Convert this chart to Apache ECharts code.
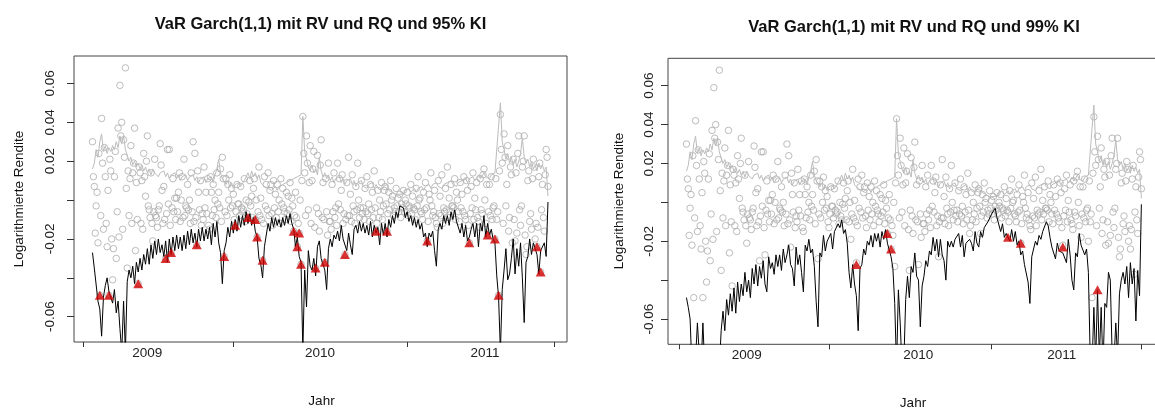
<!DOCTYPE html>
<html><head><meta charset="utf-8">
<script src="https://cdn.jsdelivr.net/npm/echarts@6/dist/echarts.min.js"></script>
<style>html,body{margin:0;padding:0;background:#fff}#c{width:1155px;height:410px}</style>
</head><body><div id="c"></div>
<script>
// daily log returns (grey circles), one value per trading day, shared by both panels
const returns = [
0.030,0.012,0.007,-0.017,-0.003,0.004,-0.022,0.024,-0.049,-0.008,0.042,0.019,-0.015,0.027,0.012,-0.012,-0.024,0.005,-0.049,0.021,
0.015,-0.020,-0.041,-0.025,0.012,0.025,-0.030,-0.006,0.037,-0.019,0.059,0.033,0.040,-0.015,0.031,0.022,0.068,0.006,-0.035,0.015,
-0.008,0.011,0.028,-0.012,0.014,0.019,0.037,-0.026,0.009,-0.010,-0.043,0.017,0.014,-0.012,0.010,-0.015,0.024,0.012,0.002,0.020,
0.033,-0.003,-0.005,-0.009,0.014,-0.012,-0.021,-0.006,0.021,-0.008,-0.009,-0.014,-0.005,-0.003,0.029,0.018,0.005,-0.012,0.007,-0.010,
-0.030,-0.007,0.026,-0.002,0.026,-0.013,-0.027,-0.004,0.011,-0.006,0.001,-0.010,0.001,-0.006,0.004,0.014,-0.011,0.000,0.012,-0.009,
0.021,-0.008,-0.003,-0.004,0.008,-0.005,0.000,-0.012,0.014,-0.006,0.030,-0.011,0.024,-0.009,-0.023,0.015,0.004,-0.005,0.010,-0.013,
-0.007,-0.010,0.017,-0.004,0.004,-0.007,0.011,-0.013,-0.015,0.012,0.004,-0.008,0.008,-0.005,0.000,-0.009,0.014,-0.002,0.004,-0.004,
0.016,-0.011,0.022,0.011,-0.029,-0.006,0.011,-0.008,0.008,0.000,0.013,-0.004,0.006,-0.003,0.003,-0.010,-0.013,-0.006,0.008,-0.002,
-0.002,-0.008,0.007,-0.004,-0.006,-0.005,0.011,-0.011,0.000,-0.007,-0.009,-0.001,0.010,-0.003,0.002,-0.009,0.006,0.011,-0.010,0.000,
-0.019,-0.006,0.017,-0.008,0.001,-0.010,-0.031,-0.012,0.012,-0.003,0.008,-0.005,0.014,-0.008,0.005,0.008,-0.007,-0.013,0.010,-0.004,
0.003,-0.009,0.008,-0.006,0.000,-0.012,0.011,-0.002,0.006,-0.004,-0.006,-0.010,0.004,-0.007,0.002,-0.005,0.009,-0.011,0.001,-0.003,
-0.016,-0.008,0.004,-0.009,-0.024,-0.012,-0.017,0.000,-0.033,0.010,0.043,0.024,0.014,-0.008,0.033,0.019,-0.005,0.009,0.028,-0.012,
0.010,0.016,0.025,-0.014,-0.035,-0.004,0.023,-0.007,-0.016,0.018,0.031,-0.009,0.009,-0.010,-0.032,0.011,-0.006,-0.018,0.019,-0.011,
-0.011,-0.015,0.008,-0.006,0.014,-0.009,-0.004,-0.013,0.019,-0.002,0.011,-0.005,0.005,0.013,-0.012,-0.007,-0.028,-0.010,0.009,-0.008,
0.022,-0.008,0.003,-0.011,0.013,-0.003,-0.006,-0.012,0.007,-0.005,0.019,0.000,-0.009,-0.004,0.010,-0.007,-0.004,-0.010,0.006,-0.006,
0.012,-0.007,-0.002,-0.011,0.008,-0.005,0.004,-0.009,0.015,-0.004,-0.016,-0.012,0.005,-0.009,0.000,-0.006,0.009,-0.010,-0.003,0.005,
0.007,-0.002,-0.016,-0.007,0.004,-0.005,0.010,0.000,0.002,-0.008,-0.004,-0.006,0.006,-0.003,0.001,-0.006,0.003,-0.009,-0.002,-0.004,
0.005,-0.006,0.000,-0.002,0.004,-0.008,-0.003,-0.004,0.008,-0.007,0.002,-0.004,-0.005,-0.010,0.006,-0.003,0.012,0.000,0.001,-0.006,
-0.007,-0.010,0.004,-0.005,0.009,-0.004,-0.021,-0.011,0.003,0.000,0.014,-0.003,-0.008,-0.006,0.005,-0.009,-0.012,-0.014,0.010,-0.007,
0.002,-0.008,0.013,-0.012,-0.004,-0.006,0.006,-0.005,0.017,-0.009,0.001,-0.006,0.008,-0.003,-0.003,-0.004,0.011,-0.010,0.004,0.000,
-0.006,-0.011,0.009,-0.004,0.003,-0.006,0.012,-0.008,-0.010,0.010,0.005,-0.013,-0.022,-0.007,0.007,-0.004,0.014,-0.010,0.001,-0.005,
0.009,-0.009,-0.011,-0.014,0.011,-0.005,-0.007,0.013,0.016,0.000,-0.012,0.008,-0.018,-0.006,0.008,-0.008,0.012,-0.010,-0.004,-0.003,
-0.020,0.011,-0.010,-0.006,-0.049,0.015,0.044,0.026,0.019,-0.012,0.034,0.022,-0.003,0.008,0.028,-0.016,-0.009,0.017,0.013,-0.022,
0.021,-0.010,-0.021,0.014,-0.017,0.024,0.033,-0.005,-0.013,-0.003,0.017,0.020,0.033,-0.018,-0.028,-0.024,0.010,0.015,-0.011,-0.007,
-0.015,0.011,0.021,0.017,-0.020,-0.012,-0.024,-0.014,0.012,0.019,-0.037,-0.005,0.008,-0.009,-0.016,0.013,0.026,0.022,0.007];
// realized volatility (grey line), one value every second trading day, shared
const rvLine = [
0.016,0.019,0.026,0.022,0.030,0.034,0.025,0.028,0.024,0.027,
0.025,0.028,0.026,0.030,0.027,0.033,0.029,0.033,0.026,0.023,
0.020,0.022,0.018,0.020,0.017,0.019,0.016,0.018,0.015,0.017,
0.014,0.016,0.013,0.016,0.014,0.015,0.012,0.014,0.013,0.015,
0.012,0.014,0.011,0.013,0.012,0.014,0.011,0.013,0.010,0.012,
0.011,0.013,0.010,0.012,0.011,0.013,0.010,0.012,0.009,0.011,
0.010,0.012,0.009,0.011,0.010,0.012,0.009,0.013,0.016,0.021,
0.014,0.011,0.010,0.008,0.010,0.007,0.009,0.006,0.008,0.007,
0.009,0.007,0.008,0.010,0.012,0.014,0.011,0.015,0.012,0.014,
0.011,0.013,0.009,0.010,0.007,0.008,0.006,0.007,0.005,0.006,
0.007,0.005,0.007,0.006,0.008,0.007,0.009,0.008,0.010,0.009,
0.011,0.010,0.012,0.011,0.013,0.043,0.025,0.021,0.017,0.015,
0.018,0.014,0.016,0.013,0.022,0.015,0.012,0.014,0.011,0.013,
0.010,0.012,0.009,0.011,0.010,0.012,0.009,0.011,0.008,0.010,
0.009,0.011,0.008,0.010,0.007,0.009,0.008,0.010,0.007,0.008,
0.006,0.008,0.007,0.009,0.006,0.008,0.006,0.007,0.005,0.007,
0.006,0.008,0.005,0.006,0.004,0.005,0.003,0.004,0.003,0.004,
0.003,0.005,0.004,0.006,0.004,0.005,0.006,0.004,0.006,0.005,
0.007,0.005,0.007,0.006,0.008,0.006,0.008,0.007,0.009,0.007,
0.008,0.006,0.008,0.007,0.009,0.008,0.010,0.008,0.009,0.007,
0.009,0.008,0.010,0.009,0.011,0.009,0.011,0.010,0.012,0.010,
0.011,0.013,0.011,0.012,0.014,0.012,0.013,0.011,0.013,0.012,
0.014,0.013,0.038,0.050,0.030,0.026,0.021,0.024,0.019,0.022,
0.018,0.021,0.017,0.020,0.024,0.032,0.022,0.019,0.021,0.017,
0.020,0.016,0.018,0.015,0.019,0.016,0.018,0.015,0.017,0.002];
// VaR 95% (black line, left panel), every second trading day
const var95 = [
-0.027,-0.035,-0.036,-0.052,-0.056,-0.070,-0.050,-0.044,-0.040,-0.047,
-0.048,-0.053,-0.046,-0.058,-0.052,-0.066,-0.078,-0.052,-0.078,-0.042,
-0.036,-0.040,-0.034,-0.043,-0.032,-0.037,-0.030,-0.036,-0.028,-0.033,
-0.025,-0.033,-0.023,-0.030,-0.021,-0.028,-0.020,-0.027,-0.023,-0.029,
-0.021,-0.032,-0.020,-0.028,-0.019,-0.026,-0.018,-0.025,-0.019,-0.026,
-0.018,-0.025,-0.016,-0.023,-0.015,-0.022,-0.017,-0.024,-0.015,-0.021,
-0.014,-0.021,-0.015,-0.020,-0.014,-0.023,-0.012,-0.019,-0.011,-0.022,
-0.027,-0.043,-0.026,-0.022,-0.014,-0.019,-0.011,-0.017,-0.010,-0.016,
-0.008,-0.014,-0.008,-0.013,-0.006,-0.012,-0.007,-0.013,-0.009,-0.016,
-0.019,-0.030,-0.033,-0.040,-0.024,-0.023,-0.012,-0.016,-0.009,-0.014,
-0.009,-0.013,-0.010,-0.014,-0.009,-0.013,-0.008,-0.012,-0.007,-0.012,
-0.015,-0.024,-0.019,-0.029,-0.032,-0.078,-0.036,-0.055,-0.026,-0.034,
-0.036,-0.030,-0.039,-0.024,-0.021,-0.030,-0.029,-0.036,-0.046,-0.025,
-0.020,-0.024,-0.018,-0.020,-0.016,-0.021,-0.013,-0.020,-0.020,-0.026,
-0.017,-0.023,-0.028,-0.015,-0.013,-0.017,-0.011,-0.016,-0.012,-0.017,
-0.013,-0.018,-0.011,-0.019,-0.013,-0.017,-0.014,-0.023,-0.012,-0.018,
-0.012,-0.019,-0.010,-0.014,-0.008,-0.012,-0.006,-0.009,-0.003,-0.002,
-0.004,-0.009,-0.006,-0.011,-0.008,-0.013,-0.009,-0.014,-0.010,-0.015,
-0.012,-0.019,-0.017,-0.024,-0.017,-0.019,-0.016,-0.026,-0.034,-0.015,
-0.012,-0.015,-0.008,-0.012,-0.008,-0.013,-0.006,-0.010,-0.005,-0.011,
-0.010,-0.017,-0.012,-0.019,-0.013,-0.021,-0.019,-0.015,-0.012,-0.019,
-0.012,-0.024,-0.012,-0.016,-0.008,-0.019,-0.012,-0.018,-0.015,-0.020,
-0.022,-0.039,-0.050,-0.078,-0.046,-0.036,-0.025,-0.041,-0.038,-0.030,
-0.020,-0.038,-0.025,-0.034,-0.022,-0.040,-0.063,-0.032,-0.029,-0.020,
-0.028,-0.022,-0.025,-0.028,-0.038,-0.026,-0.027,-0.022,-0.029,-0.001];
// VaR 99% (black line, right panel), every second trading day
const var99 = [
-0.049,-0.054,-0.060,-0.085,-0.090,-0.080,-0.062,-0.078,-0.085,-0.062,
-0.085,-0.095,-0.090,-0.095,-0.100,-0.095,-0.100,-0.090,-0.085,-0.066,
-0.056,-0.066,-0.050,-0.058,-0.047,-0.056,-0.044,-0.057,-0.041,-0.051,
-0.042,-0.048,-0.036,-0.046,-0.040,-0.049,-0.034,-0.042,-0.032,-0.043,
-0.033,-0.039,-0.030,-0.042,-0.046,-0.028,-0.034,-0.031,-0.037,-0.027,
-0.033,-0.027,-0.035,-0.024,-0.031,-0.027,-0.022,-0.032,-0.034,-0.043,
-0.023,-0.032,-0.027,-0.036,-0.046,-0.022,-0.025,-0.019,-0.026,-0.024,
-0.033,-0.051,-0.064,-0.026,-0.028,-0.017,-0.025,-0.020,-0.021,-0.016,
-0.024,-0.015,-0.016,-0.011,-0.013,-0.009,-0.016,-0.014,-0.021,-0.036,
-0.044,-0.032,-0.042,-0.048,-0.066,-0.034,-0.032,-0.024,-0.027,-0.020,
-0.022,-0.017,-0.023,-0.016,-0.020,-0.016,-0.023,-0.015,-0.019,-0.014,
-0.021,-0.021,-0.028,-0.034,-0.052,-0.085,-0.045,-0.062,-0.085,-0.082,
-0.050,-0.038,-0.049,-0.033,-0.036,-0.026,-0.038,-0.040,-0.064,-0.043,
-0.038,-0.030,-0.033,-0.025,-0.027,-0.018,-0.025,-0.019,-0.028,-0.019,
-0.027,-0.030,-0.040,-0.020,-0.023,-0.020,-0.023,-0.019,-0.020,-0.016,
-0.023,-0.017,-0.028,-0.021,-0.022,-0.019,-0.021,-0.025,-0.015,-0.021,
-0.023,-0.015,-0.018,-0.013,-0.014,-0.010,-0.011,-0.006,-0.006,-0.003,
-0.008,-0.009,-0.015,-0.011,-0.018,-0.016,-0.017,-0.020,-0.014,-0.020,
-0.015,-0.022,-0.020,-0.027,-0.025,-0.032,-0.031,-0.041,-0.052,-0.028,
-0.028,-0.020,-0.022,-0.017,-0.019,-0.015,-0.015,-0.010,-0.012,-0.018,
-0.023,-0.022,-0.029,-0.021,-0.025,-0.024,-0.026,-0.027,-0.031,-0.019,
-0.027,-0.040,-0.045,-0.026,-0.028,-0.016,-0.022,-0.021,-0.027,-0.024,
-0.036,-0.080,-0.085,-0.054,-0.082,-0.045,-0.080,-0.054,-0.085,-0.052,
-0.054,-0.036,-0.040,-0.078,-0.082,-0.062,-0.080,-0.047,-0.040,-0.036,
-0.042,-0.033,-0.049,-0.031,-0.042,-0.034,-0.061,-0.035,-0.048,-0.001];
// VaR violations (red triangles): trading day and return
const viol95Day = [8,18,50,80,86,114,144,156,170,178,180,186,220,224,226,228,244,254,276,310,322,366,412,432,440,444,486,490];
const viol95Val = [-0.049,-0.049,-0.043,-0.030,-0.027,-0.023,-0.029,-0.013,-0.009,-0.010,-0.019,-0.031,-0.016,-0.024,-0.017,-0.033,-0.035,-0.032,-0.028,-0.016,-0.016,-0.021,-0.022,-0.018,-0.020,-0.049,-0.024,-0.037];
const viol99Day = [186,220,224,352,366,412,450];
const viol99Val = [-0.032,-0.016,-0.024,-0.018,-0.021,-0.023,-0.045];
// axis ticks / labels (trading-day positions)
const yearLabels = ['2009','2010','2011'];
const yTicks = [-0.06,-0.04,-0.02,0,0.02,0.04,0.06];
const yLabelTicks = [-0.06,-0.02,0.02,0.04,0.06];
const xTickPos95 = [-10.0,154.0,343.6,504.6];
const xLabelPos95 = [60.0,248.8,429.2];
const xTickPos99 = [-7.8,156.0,334.2,498.4];
const xLabelPos99 = [66.0,253.8,410.8];
const titles = ['VaR Garch(1,1) mit RV und RQ und 95% KI','VaR Garch(1,1) mit RV und RQ und 99% KI'];
const yName = 'Logarithmierte Rendite';
const xName = 'Jahr';
const LINE_STEP = 2; // line series are sampled every second trading day

const FONT = '"Liberation Sans", Arial, sans-serif';
const chart = echarts.init(document.getElementById('c'), null, {renderer:'canvas'});

function xAx(gi, ticks, labs, min, max) {
  return {type:'value', gridIndex:gi, min:min, max:max,
    axisLine:{show:false, onZero:false}, splitLine:{show:false},
    axisTick:{show:true, inside:false, length:5, customValues:ticks, lineStyle:{color:'#333', width:1}},
    axisLabel:{show:true, customValues:labs, margin:4, fontSize:13.5, color:'#222', fontFamily:FONT,
      formatter:function(v){let k=0,b=1e9;labs.forEach(function(p,j){const d=Math.abs(p-v);if(d<b){b=d;k=j;}});return yearLabels[k];}}
  };
}
function yAx(gi, margin) {
  return {type:'value', gridIndex:gi, min:-0.073, max:0.0741,
    axisLine:{show:false, onZero:false}, splitLine:{show:false},
    axisTick:{show:true, inside:false, length:7, customValues:yTicks, lineStyle:{color:'#333', width:1}},
    axisLabel:{show:true, customValues:yLabelTicks, rotate:90, margin:margin, fontSize:13.5, color:'#222', fontFamily:FONT,
      formatter:function(v){return v.toFixed(2);}}
  };
}
function pts(arr, step){return arr.map(function(v,i){return [i*step,v];});}
function panel(gi, varArr, vDay, vVal) {
  return [
    {type:'scatter', xAxisIndex:gi, yAxisIndex:gi, data:pts(returns,1), symbol:'circle', symbolSize:6.5,
      itemStyle:{color:'rgba(0,0,0,0)', borderColor:'#ababab', borderWidth:1}, silent:true, z:1},
    {type:'line', xAxisIndex:gi, yAxisIndex:gi, data:pts(rvLine,LINE_STEP), symbol:'none', showSymbol:false,
      lineStyle:{color:'#bcbcbc', width:1}, silent:true, z:2},
    {type:'line', xAxisIndex:gi, yAxisIndex:gi, data:pts(varArr,LINE_STEP), symbol:'none', showSymbol:false,
      lineStyle:{color:'#000', width:1}, silent:true, z:3},
    {type:'scatter', xAxisIndex:gi, yAxisIndex:gi, data:vDay.map(function(x,k){return [x,vVal[k]];}),
      symbol:'triangle', symbolSize:[10,9], itemStyle:{color:'#d00000'}, silent:true, z:4}
  ];
}
function txt(s, x, y, size, bold, rot) {
  return {type:'text', x:x, y:y, rotation:rot||0, silent:true,
    style:{text:s, fill:'#111', font:(bold?'bold ':'')+size+'px '+FONT,
      textAlign:'center', textVerticalAlign:'middle', align:'center', verticalAlign:'middle'}};
}

chart.setOption({
  animation:false,
  backgroundColor:'#fff',
  grid:[
    {left:74, top:56, width:493, height:286, show:true, borderColor:'#444', borderWidth:1, backgroundColor:'rgba(0,0,0,0)', containLabel:false, outerBoundsMode:'none'},
    {left:668, top:58.3, width:492, height:286, show:true, borderColor:'#444', borderWidth:1, backgroundColor:'rgba(0,0,0,0)', containLabel:false, outerBoundsMode:'none'}
  ],
  xAxis:[xAx(0, xTickPos95, xLabelPos95, -20.2, 518.8), xAx(1, xTickPos99, xLabelPos99, -20.2, 518.4)],
  yAxis:[yAx(0, 17), yAx(1, 12)],
  series:[].concat(panel(0, var95, viol95Day, viol95Val), panel(1, var99, viol99Day, viol99Val)),
  graphic:[
    txt(titles[0], 320.5, 24, 16.5, true),
    txt(titles[1], 914, 27, 16.5, true),
    txt(yName, 19, 199, 13.5, false, Math.PI/2),
    txt(yName, 619, 201, 13.5, false, Math.PI/2),
    txt(xName, 321.5, 401, 13.5, false),
    txt(xName, 913, 403, 13.5, false)
  ]
});
</script></body></html>
